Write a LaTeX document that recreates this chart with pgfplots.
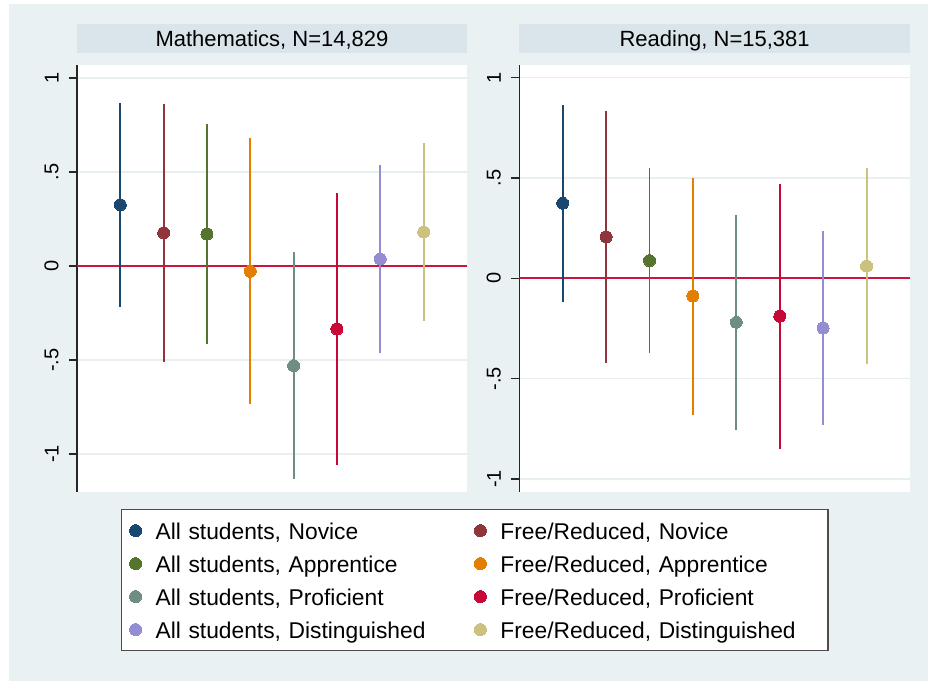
\documentclass[border=0pt]{standalone}
\usepackage{pgfplots}
\pgfplotsset{compat=1.18}
\usepackage{pgfplotstable}
\usepackage{fontspec}
\setmainfont{Liberation Sans}

\definecolor{bgc}{RGB}{233,241,243}
\definecolor{titlec}{RGB}{217,229,235}
\definecolor{gridc}{RGB}{231,239,241}
\definecolor{snavy}{RGB}{26,71,111}
\definecolor{smaroon}{RGB}{144,53,59}
\definecolor{sgreen}{RGB}{85,117,47}
\definecolor{sorange}{RGB}{227,126,0}
\definecolor{steal}{RGB}{110,142,132}
\definecolor{scran}{RGB}{200,8,55}
\definecolor{slav}{RGB}{147,141,210}
\definecolor{skhaki}{RGB}{202,194,126}
\definecolor{zeroc}{RGB}{205,20,60}

% Mathematics: point estimate and 95% CI
\pgfplotstableread{
x y lo hi
1 0.326 -0.216 0.869
2 0.177 -0.509 0.862
3 0.170 -0.417 0.755
4 -0.028 -0.736 0.683
5 -0.530 -1.135 0.074
6 -0.335 -1.059 0.390
7 0.037 -0.461 0.535
8 0.181 -0.291 0.652
}\mathtab

% Reading
\pgfplotstableread{
x y lo hi
1 0.374 -0.116 0.864
2 0.206 -0.420 0.836
3 0.088 -0.374 0.548
4 -0.088 -0.679 0.502
5 -0.219 -0.757 0.316
6 -0.189 -0.849 0.468
7 -0.248 -0.729 0.238
8 0.061 -0.427 0.548
}\readtab

\pgfplotsset{
  ci/.style={only marks, mark=*, mark size=3pt, color=#1,
    mark options={fill=#1, draw=#1, line width=0pt},
    error bars/y dir=both, error bars/y explicit,
    error bars/error mark=none,
    error bars/error bar style={line width=0.95pt, color=#1, solid}},
  panel/.style={
    scale only axis, height=213.2pt,
    xmin=0, xmax=9,
    axis x line=none, axis y line*=left,
    axis background/.style={fill=white},
    axis line style={black!85, line width=0.6pt},
    ytick={-1,-0.5,0,0.5,1},
    yticklabels={-1,-.5,0,.5,1},
    tick align=outside, major tick length=4pt,
    ytick style={black!85, line width=0.6pt},
    yticklabel style={rotate=90, anchor=south, inner xsep=0pt, inner ysep=5pt,
      font=\fontsize{10}{12}\selectfont},
    /pgf/number format/assume math mode=true,
    ymajorgrids, grid style={color=gridc, line width=0.8pt},
    title style={at={(0.5,1)}, anchor=south, fill=titlec, inner sep=0pt,
      minimum width=\pgfkeysvalueof{/pgfplots/width}, minimum height=14.5pt,
      text height=7.9pt, text depth=0pt, yshift=0pt,
      font=\fontsize{11}{13}\selectfont},
  }
}

\newcommand{\ci}[4]{%
  \addplot[ci=#2, skip coords between index={0}{#3}, skip coords between index={#4}{8}]
    table[x=x, y=y, y error plus expr=\thisrow{hi}-\thisrow{y},
          y error minus expr=\thisrow{y}-\thisrow{lo}] {#1};}

\begin{document}
\begin{tikzpicture}
\useasboundingbox (0,0) rectangle (464pt,-340.5pt);
\fill[white] (0,0) rectangle (464pt,-340.5pt);
\fill[bgc] (4.5pt,-2pt) rectangle (464pt,-340.5pt);

\begin{axis}[panel, width=195pt,
  at={(38.5pt,-245.85pt)}, anchor=south west,
  ymin=-1.2005, ymax=1.0676,
  title={Mathematics, N=14,829},
  legend columns=2,
  legend cell align=left,
  legend image code/.code={\draw[mark repeat=1,#1] plot coordinates {(0pt,0pt)};},
  legend style={at={(0.11205,-0.04057)}, anchor=north west,
    draw=black!70, line width=0.6pt, fill=white,
    font=\fontsize{11.4}{13.7}\selectfont,
    inner xsep=4.15pt, inner ysep=5pt, row sep=5.5pt,
    /tikz/every odd column/.append style={column sep=7pt},
    /tikz/every even column/.append style={column sep=14.4pt},
    /tikz/column 2/.style={nodes={text width=145pt}},
    /tikz/column 4/.style={nodes={text width=159.6pt}},
    nodes={inner sep=0pt, text height=10pt, text depth=1pt}},
]
\addplot[forget plot, zeroc, line width=1pt] coordinates {(0,0) (9,0)};
\ci{\mathtab}{snavy}{0}{1}   \addlegendentry{All students, Novice}
\ci{\mathtab}{smaroon}{1}{2} \addlegendentry{Free/Reduced, Novice}
\ci{\mathtab}{sgreen}{2}{3}  \addlegendentry{All students, Apprentice}
\ci{\mathtab}{sorange}{3}{4} \addlegendentry{Free/Reduced, Apprentice}
\ci{\mathtab}{steal}{4}{5}   \addlegendentry{All students, Proficient}
\ci{\mathtab}{scran}{5}{6}   \addlegendentry{Free/Reduced, Proficient}
\ci{\mathtab}{slav}{6}{7}    \addlegendentry{All students, Distinguished}
\ci{\mathtab}{skhaki}{7}{8}  \addlegendentry{Free/Reduced, Distinguished}
\end{axis}

\begin{axis}[panel, width=195.35pt,
  at={(259.65pt,-245.85pt)}, anchor=south west,
  ymin=-1.0634, ymax=1.0614,
  title={Reading, N=15,381},
]
\addplot[forget plot, zeroc, line width=1pt] coordinates {(0,0) (9,0)};
\ci{\readtab}{snavy}{0}{1}
\ci{\readtab}{smaroon}{1}{2}
\ci{\readtab}{sgreen}{2}{3}
\ci{\readtab}{sorange}{3}{4}
\ci{\readtab}{steal}{4}{5}
\ci{\readtab}{scran}{5}{6}
\ci{\readtab}{slav}{6}{7}
\ci{\readtab}{skhaki}{7}{8}
\end{axis}
\end{tikzpicture}
\end{document}
